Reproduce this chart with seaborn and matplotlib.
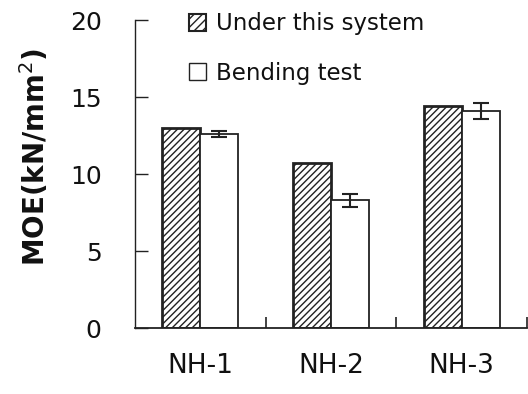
import matplotlib
matplotlib.use("Agg")
import matplotlib.pyplot as plt
import matplotlib.patches as mpatches
import seaborn as sns
import pandas as pd
import numpy as np

categories = ["NH-1", "NH-2", "NH-3"]
series_names = ["Under this system", "Bending test"]
under_system = [13.0, 10.7, 14.4]
bending_test = [12.6, 8.3, 14.1]
bending_err = [0.2, 0.42, 0.52]
y_ticks = [0, 5, 10, 15, 20]

df = pd.DataFrame({
    "cat": categories * 2,
    "series": [series_names[0]] * 3 + [series_names[1]] * 3,
    "MOE": under_system + bending_test,
})

sns.set_theme(style="white")
plt.rcParams["font.family"] = ["DejaVu Sans"]
plt.rcParams["hatch.linewidth"] = 1.0
plt.rcParams["text.color"] = "#111111"
plt.rcParams["xtick.color"] = "#111111"
plt.rcParams["ytick.color"] = "#111111"
plt.rcParams["axes.labelcolor"] = "#111111"

fig = plt.figure(figsize=(5.28, 3.94), dpi=100)
ax = fig.add_axes([0.2557, 0.1675, 0.7423, 0.7815])

sns.barplot(data=df, x="cat", y="MOE", hue="series", order=categories,
            hue_order=series_names, palette=["white", "white"],
            width=0.58, gap=0, errorbar=None, legend=False, ax=ax,
            saturation=1)

for p in ax.containers[0]:
    p.set_hatch("/////")
    p.set_edgecolor("#222222")
    p.set_linewidth(2.0)
for p in ax.containers[1]:
    p.set_edgecolor("#222222")
    p.set_linewidth(1.3)

xs = [p.get_x() + p.get_width() / 2 for p in ax.containers[1]]
ax.errorbar(xs, bending_test, yerr=bending_err, fmt="none", ecolor="#222222",
            elinewidth=1.5, capsize=5.5, capthick=1.5)

ax.set_xlim(-0.5, 2.5)
ax.set_ylim(0, 20)
ax.set_yticks(y_ticks)
ax.set_yticklabels([str(v) for v in y_ticks], fontsize=18)
ax.set_xticks(range(len(categories)))
ax.set_xticklabels(categories, fontsize=19)
ax.set_xticks([0.5, 1.5, 2.5], minor=True)
ax.tick_params(axis="x", which="major", length=0, pad=18)
ax.tick_params(axis="x", which="minor", direction="in", length=8, width=1.2,
               color="#222222", bottom=True)
ax.tick_params(axis="y", direction="in", length=9, width=1.0, color="#222222",
               left=True, pad=24)
for s in ["top", "right"]:
    ax.spines[s].set_visible(False)
for s in ["left", "bottom"]:
    ax.spines[s].set_color("#222222")
ax.spines["left"].set_linewidth(1.0)
ax.spines["bottom"].set_linewidth(1.3)
ax.set_xlabel("")
ax.set_ylabel("MOE(kN/mm$^2$)", fontsize=20, fontweight="bold")
ax.yaxis.set_label_coords(-0.215, 0.555)

handles = [
    mpatches.Patch(facecolor="white", edgecolor="#222222", hatch="////",
                   linewidth=1.5, label=series_names[0]),
    mpatches.Patch(facecolor="white", edgecolor="#222222", linewidth=1.0,
                   label=series_names[1]),
]
fig.legend(handles=handles, loc="upper left", bbox_to_anchor=(0.338, 0.995),
           frameon=False, fontsize=16.5, handlelength=0.75, handleheight=0.75,
           handletextpad=0.45, labelspacing=1.15, borderaxespad=0.05)

fig.savefig("out.png", dpi=100)
